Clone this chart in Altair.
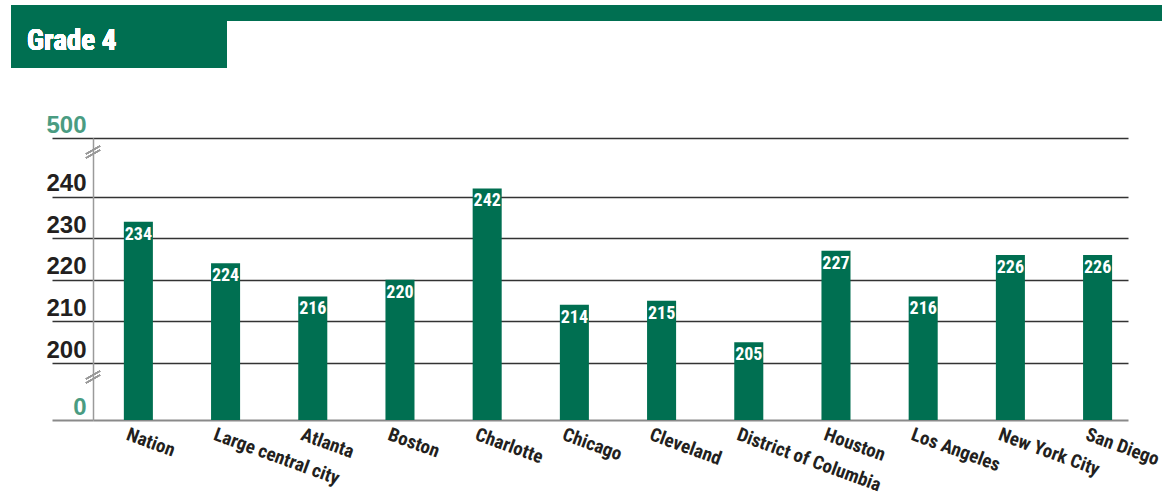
import altair as alt
import pandas as pd

categories = ["Nation", "Large central city", "Atlanta", "Boston", "Charlotte", "Chicago",
              "Cleveland", "District of Columbia", "Houston", "Los Angeles", "New York City", "San Diego"]
scores = [234, 224, 216, 220, 242, 214, 215, 205, 227, 216, 226, 226]
tick_values = [0, 200, 210, 220, 230, 240, 500]

GREEN = "#006f51"
TEAL = "#4a9c82"
DARK = "#231f20"
NARROW = "Roboto Condensed, Liberation Sans Narrow, DejaVu Sans Condensed, sans-serif"
WIDE = "Liberation Sans, Arial, sans-serif"

df = pd.DataFrame({"city": categories, "score": scores})

W, H = 1035, 282
PX10 = (225 - 58.7) / 4  # pixels per 10 points in the expanded part

x_scale = alt.Scale(paddingInner=0.667, paddingOuter=0.268, align=0.66)
y_scale = alt.Scale(domain=[0, 200, 245, 500], range=[H, 225, 225 - 4.5 * PX10, 0],
                    zero=False, nice=False, clamp=True)

x_enc = alt.X("city:N", sort=categories, scale=x_scale,
              axis=alt.Axis(title=None, labelAngle=20, labelAlign="left", labelBaseline="top",
                            labelOffset=-8, labelPadding=5, ticks=False, domain=False,
                            labelFont=NARROW, labelFontSize=19, labelFontWeight="bold",
                            labelColor=DARK, labelLimit=300))

y_enc = alt.Y("score:Q", scale=y_scale,
              axis=alt.Axis(title=None, values=tick_values, grid=True,
                            gridColor=alt.condition("datum.value == 0", alt.value("#8a8a8a"), alt.value("#333333")),
                            gridWidth=alt.condition("datum.value == 0", alt.value(2.2), alt.value(1.3)),
                            ticks=True, tickSize=41,
                            tickColor=alt.condition("datum.value == 0", alt.value("#8a8a8a"), alt.value("#333333")),
                            tickWidth=alt.condition("datum.value == 0", alt.value(2.2), alt.value(1.3)),
                            domain=True, domainColor="#9a9a9a", domainWidth=1.5,
                            labelPadding=-34, labelAlign="right", labelBaseline="bottom", labelOffset=-1,
                            labelFont=WIDE, labelFontSize=24, labelFontWeight="bold",
                            labelColor=alt.condition("datum.value == 0 || datum.value == 500",
                                                     alt.value(TEAL), alt.value(DARK))))

bars = alt.Chart(df).mark_bar(color=GREEN).encode(x=x_enc, y=y_enc, y2=alt.datum(0))

labels = alt.Chart(df).mark_text(color="white", font=NARROW, fontSize=18, fontWeight="bold",
                                 baseline="top", dy=4).encode(
    x=alt.X("city:N", sort=categories), y="score:Q", text="score:Q")

# header decoration
strip = alt.Chart(df).mark_rect(color=GREEN).encode(
    x=alt.value(-82), x2=alt.value(1069), y=alt.value(-133), y2=alt.value(-117))
box = alt.Chart(df).mark_rect(color=GREEN).encode(
    x=alt.value(-82), x2=alt.value(134), y=alt.value(-118), y2=alt.value(-70))
title = alt.Chart(df).mark_text(text="Grade 4", color="white", font=NARROW, fontSize=29,
                                fontWeight="bold", align="left", baseline="alphabetic").encode(
    x=alt.value(-66), y=alt.value(-88))

# axis break marks
def brk(y0):
    a = alt.Chart(df).mark_rule(color="#9a9a9a", strokeWidth=1.3).encode(
        x=alt.value(-7), x2=alt.value(7), y=alt.value(y0 + 5), y2=alt.value(y0 - 3))
    b = alt.Chart(df).mark_rule(color="#9a9a9a", strokeWidth=1.3).encode(
        x=alt.value(-7), x2=alt.value(7), y=alt.value(y0 + 1), y2=alt.value(y0 - 7))
    return a + b

chart = alt.layer(bars, labels, strip, box, title, brk(15), brk(240)).properties(
    width=W, height=H, background="white",
    autosize=alt.AutoSizeParams(type="none"),
    padding={"left": 93, "top": 138, "right": 34, "bottom": 78},
).configure_view(strokeWidth=0, stroke="transparent")

chart.save("out.html", embed_options={"renderer": "svg", "actions": False})
